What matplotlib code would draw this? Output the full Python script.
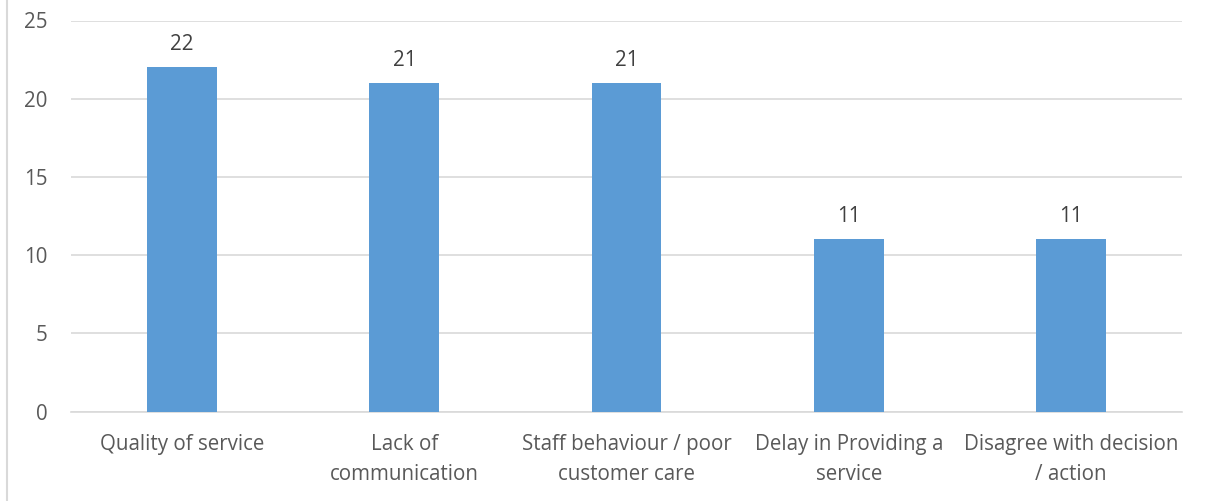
import matplotlib
matplotlib.use("Agg")
import matplotlib.pyplot as plt
from matplotlib.lines import Line2D

categories = ["Quality of service", "Lack of\ncommunication", "Staff behaviour / poor\ncustomer care",
              "Delay in Providing a\nservice", "Disagree with decision\n/ action"]
values = [22, 21, 21, 11, 11]
yticks = [0, 5, 10, 15, 20, 25]

plt.rcParams['font.family'] = ['Open Sans', 'DejaVu Sans']
txt = '#595959'
fs = 14.8

fig = plt.figure(figsize=(12.05, 5.01), dpi=100)
ax = fig.add_axes([71/1205, 1 - 411.5/501, (1182-71)/1205, (411.5-20.5)/501])
x = list(range(len(categories)))
bars = ax.bar(x, values, width=0.315, color='#5B9BD5', zorder=3)
for xi, v in zip(x, values):
    ax.annotate(str(v), (xi, v), xytext=(0, 9), textcoords='offset points',
                ha='center', va='bottom', fontsize=fs, color='#404040')
ax.set_xlim(-0.5, len(categories) - 0.5)
ax.set_ylim(0, 25)
ax.set_yticks(yticks)
ax.set_yticklabels([str(t) for t in yticks], fontsize=fs, color=txt)
ax.set_xticks(x)
ax.set_xticklabels(categories, fontsize=fs, color=txt, linespacing=1.55)
ax.tick_params(axis='both', length=0)
ax.tick_params(axis='y', pad=17)
ax.tick_params(axis='x', pad=16)
ax.grid(axis='y', color='#D9D9D9', linewidth=1.2, zorder=0)
for s in ['left', 'right', 'top']:
    ax.spines[s].set_visible(False)
ax.spines['bottom'].set_color('#D9D9D9')
ax.spines['bottom'].set_linewidth(1.2)

fig.add_artist(Line2D([7.5/1205, 7.5/1205], [0, 1], transform=fig.transFigure,
                      color='#D9D9D9', linewidth=1.5))

fig.savefig("out.png", dpi=100)
